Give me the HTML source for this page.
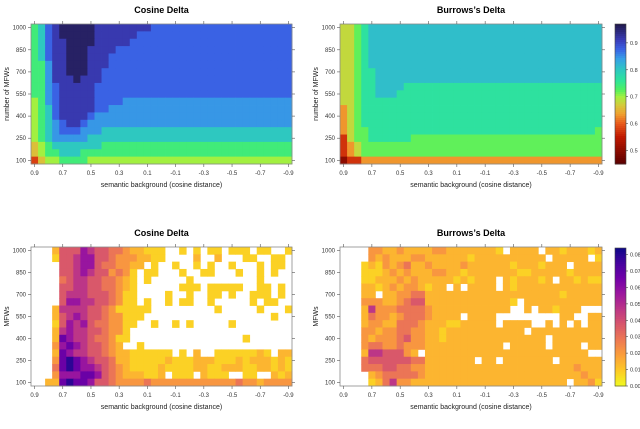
<!DOCTYPE html>
<html><head><meta charset="utf-8"><style>
html,body{margin:0;padding:0;background:#fff;}
svg{display:block;font-family:"Liberation Sans",sans-serif;}
</style></head><body>
<svg id="chart" width="640" height="429" viewBox="0 0 640 429" xmlns="http://www.w3.org/2000/svg"></svg>
<script>
// ---- data ----
const xCategories = [];
for (let i = 0; i < 37; i++) xCategories.push(+(0.9 - i*0.05).toFixed(2));
const yCategories = [1000,950,900,850,800,750,700,650,600,550,500,450,400,350,300,250,200,150,100];
const xTickLabels = ["0.9","0.7","0.5","0.3","0.1","-0.1","-0.3","-0.5","-0.7","-0.9"];
const xTickValues = [0.9,0.7,0.5,0.3,0.1,-0.1,-0.3,-0.5,-0.7,-0.9];
const yTickValues = [100,250,400,550,700,850,1000];
const cosineLevelValues = [0.50,0.58,0.66,0.70,0.74,0.80,0.845,0.875,0.915,0.955];
const topLevelValues = [0.50,0.57,0.63,0.68,0.72,0.765,0.81,0.875,0.915,0.955];
const botLevelValues = [0.002,0.008,0.014,0.021,0.029,0.037,0.047,0.057,0.067,0.079];
const topTicks = [0.5,0.6,0.7,0.8,0.9];
const botTicks = [0,0.01,0.02,0.03,0.04,0.05,0.06,0.07,0.08];

const cosineAcc = [
"4578999998888888877777777777777777777",
"4578999998888887777777777777777777777",
"4578899998888877777777777777777777777",
"4578899988887777777777777777777777777",
"4578899988877777777777777777777777777",
"4468899988877777777777777777777777777",
"4468899988777777777777777777777777777",
"4468889888777777777777777777777777777",
"4467888887777777777777777777777777777",
"4467888887777777777777777777777777777",
"3467888887777666666666666666666666666",
"3457888887766666666666666666666666666",
"3457888876666666666666666666666666666",
"3456788766666666666666666666666666666",
"3456777666555555555555555555555555555",
"3456666655555555555555555555555555555",
"2345555555444444444444444444444444444",
"2344555444444444444444444444444444444",
"1233444433333333333333333333333333333"];
const burrowsAcc = [
"3345666666666666666666666666666666666",
"3345666666666666666666666666666666666",
"3345666666666666666666666666666666666",
"3345666666666666666666666666666666666",
"3345666666666666666666666666666666666",
"3345666666666666666666666666666666666",
"3345566666666666666666666666666666666",
"3345566666666666666666666666666666666",
"3345566665555555555555555555555555555",
"3345566655555555555555555555555555555",
"3345555555555555555555555555555555555",
"2345555555555555555555555555555555555",
"2345555555555555555555555555555555555",
"2345555555555555555555555555555555555",
"2344555555555555555555555555555555554",
"1344555555444444444444444444444444444",
"1234444444444444444444444444444444444",
"1234444444444444444444444444444444444",
"0112222222222222222222222222222222222"];
const cosineSd = [
"...2555765544322111..1.1.11.111.11..1",
"...1556775543332211....2..2...11..11.",
"....556775443322.1..1..1.1..1...1.11.",
"....55676553431.11...1..11...1..1.1..",
"....45665544321.1.....1.........1....",
"....55665544321......111.11111..11.1.",
"....56665554311....1..1..11.1..111.1.",
"....57766554311.1..1.11..1.....1.11..",
"...26666554311111.........1.....1...1",
"...2567655433111..................1..",
"...157675443311..1..1.1.....1........",
"...26766554331.......................",
"...28766544311................1......",
"...3787655432..1.....................",
"...28766554322111111.1.2..11111121.22",
"...3898765542211111211122211121222121",
"...4898776543211112111122112221122121",
"...3777887543222112.111.2111..11..212",
"..22898875543333433333333333343323333"];
const burrowsSd = [
"....3322322223322222221.2222.22122212",
"....3232223322222212222222222.22222.1",
"...12132342232222322222212221222.222",
"...11123232223322122222221122222122",
"...1122232322222121222.2122212.22121",
"...221232332122.2.2222.2122222222222",
"...22.22334422222222222222222221222",
"...3332234552222222222221.222222222",
"...263334444322222222222..2.221222..",
"...24332344432222.2222.........22..2",
"...2332244432221122222.2222..2.2.2.2",
"...33233443322122222222222.222222222",
"...32333453322122222222222222.22222",
"...34433433322222222222.22222.2222.2",
"...26655532.22222222222222222222222.",
"...4555555442222222.22.2222222.22222",
"...44455443322222222222222222222232",
"....234444432222222222222222222222322",
"....1246332222222222222222222222.2231"];

// ---- colour maps ----
const topStops = [[0.45,"#5a0000"],[0.55,"#c01800"],[0.60,"#e85a1c"],[0.635,"#f0a030"],[0.67,"#d2cc3c"],[0.70,"#a2f040"],[0.725,"#50f060"],[0.76,"#2ee49a"],[0.80,"#2ec8c0"],[0.84,"#36a0e6"],[0.875,"#3a62e4"],[0.91,"#3a3cb8"],[0.97,"#201848"]];
const plasma = ["#0d0887","#46039f","#7201a8","#9c179e","#bd3786","#d8576b","#ed7953","#fb9f3a","#fdca26","#f0f921"];
function hex(c){return [1,3,5].map(i=>parseInt(c.substr(i,2),16));}
function lerpStops(stops,v){
  if(v<=stops[0][0])return stops[0][1];
  for(let i=1;i<stops.length;i++){if(v<=stops[i][0]){const a=stops[i-1],b=stops[i];const t=(v-a[0])/(b[0]-a[0]);const ca=hex(a[1]),cb=hex(b[1]);return "rgb("+ca.map((x,k)=>Math.round(x+(cb[k]-x)*t)).join(",")+")";}}
  return stops[stops.length-1][1];
}
function topColor(v){return lerpStops(topStops,v);}
const plasmaStops = plasma.map((c,i)=>[0.084*(1-i/9),c]).reverse();
function botColor(v){return lerpStops(plasmaStops,v);}

// ---- drawing ----
const svg=document.getElementById('chart');
const NS="http://www.w3.org/2000/svg";
function el(tag,attrs,parent){const e=document.createElementNS(NS,tag);for(const k in attrs)e.setAttribute(k,attrs[k]);(parent||svg).appendChild(e);return e;}
function txt(s,attrs,parent){const e=el('text',attrs,parent);e.textContent=s;return e;}

function panel(name,title,rows,levels,colorFn,x0,y0,w,h,ytitle){
  const g=el('g',{});
  
  
  const xs=v=>x0+(0.9-v)/1.8*(w-w/37)+w/74;
  const cw=w/37, ch=h/19;
  const ys=v=>y0+(1000-v)/900*(h-ch)+ch/2;
  rows.forEach((r,ri)=>{
    for(let ci=0;ci<37;ci++){
      let c=r[ci]; if(c===undefined)c=r[r.length-1];
      if(c==='.')continue;
      const v=levels[+c];
      const cell=el('rect',{x:(xs(xCategories[ci])-cw/2).toFixed(2),y:(ys(yCategories[ri])-ch/2).toFixed(2),width:(cw+0.4).toFixed(2),height:(ch+0.4).toFixed(2),fill:colorFn(v)},g);
      
      
    }
  });
  el('rect',{x:x0,y:y0,width:w,height:h,fill:'none',stroke:'#8a8a8a','stroke-width':0.8},g);
  xTickValues.forEach((v,i)=>{
    const x=xs(v);
    el('line',{x1:x,x2:x,y1:y0,y2:y0-3,stroke:'#555','stroke-width':0.6},g);
    el('line',{x1:x,x2:x,y1:y0+h,y2:y0+h+3,stroke:'#555','stroke-width':0.6},g);
    const t=txt(xTickLabels[i],{x:x,y:y0+h+11,'font-size':6,'text-anchor':'middle',fill:'#333'},g);
    
    
  });
  yTickValues.forEach(v=>{
    const y=ys(v);
    el('line',{x1:x0,x2:x0-3,y1:y,y2:y,stroke:'#555','stroke-width':0.6},g);
    el('line',{x1:x0+w,x2:x0+w+3,y1:y,y2:y,stroke:'#555','stroke-width':0.6},g);
    const t=txt(String(v),{x:x0-5,y:y+2,'font-size':6,'text-anchor':'end',fill:'#333'},g);
    
    
  });
  const tt=txt(title,{x:x0+w/2,y:y0-11,'font-size':9,'font-weight':'bold','text-anchor':'middle',fill:'#000'},g);
  
  
  const xt=txt('semantic background (cosine distance)',{x:x0+w/2,y:y0+h+23,'font-size':7,'text-anchor':'middle',fill:'#222'},g);
  
  
  const yx=x0-22, yy=y0+h/2;
  const yt=txt(ytitle,{x:yx,y:yy,'font-size':7,'text-anchor':'middle',fill:'#222',transform:'rotate(-90 '+yx+' '+yy+')'},g);
  
  
}

function colorbar(name,x,y,w,h,vmin,vmax,colorFn,ticks,fmt){
  const g=el('g',{});
  
  
  const n=70;
  for(let i=0;i<n;i++){
    const v=vmax-(i+0.5)/n*(vmax-vmin);
    el('rect',{x:x,y:(y+i*h/n).toFixed(2),width:w,height:(h/n+0.5).toFixed(2),fill:colorFn(v)},g);
  }
  el('rect',{x:x,y:y,width:w,height:h,fill:'none',stroke:'#444','stroke-width':0.6},g);
  ticks.forEach(v=>{
    const ty=y+(vmax-v)/(vmax-vmin)*h;
    el('line',{x1:x+w,x2:x+w+2,y1:ty,y2:ty,stroke:'#444','stroke-width':0.6},g);
    const t=txt(fmt(v),{x:x+w+4,y:ty+2,'font-size':5.5,fill:'#333'},g);
    
    
  });
}

panel('cosine-accuracy-heatmap','Cosine Delta',cosineAcc,cosineLevelValues,topColor,31,24,261,140,'number of MFWs');
panel('burrows-accuracy-heatmap','Burrows\u2019s Delta',burrowsAcc,topLevelValues,topColor,340,24,262,140,'number of MFWs');
panel('cosine-sd-heatmap','Cosine Delta',cosineSd,botLevelValues,botColor,31,247,261,139,'MFWs');
panel('burrows-sd-heatmap','Burrows\u2019s Delta',burrowsSd,botLevelValues,botColor,340,247,262,139,'MFWs');
colorbar('accuracy-colorbar',615,24,11,140,0.45,0.97,topColor,topTicks,v=>v.toFixed(1));
colorbar('sd-colorbar',615,248,11,138,0,0.084,botColor,botTicks,v=>v.toFixed(2));
</script>
</body></html>
